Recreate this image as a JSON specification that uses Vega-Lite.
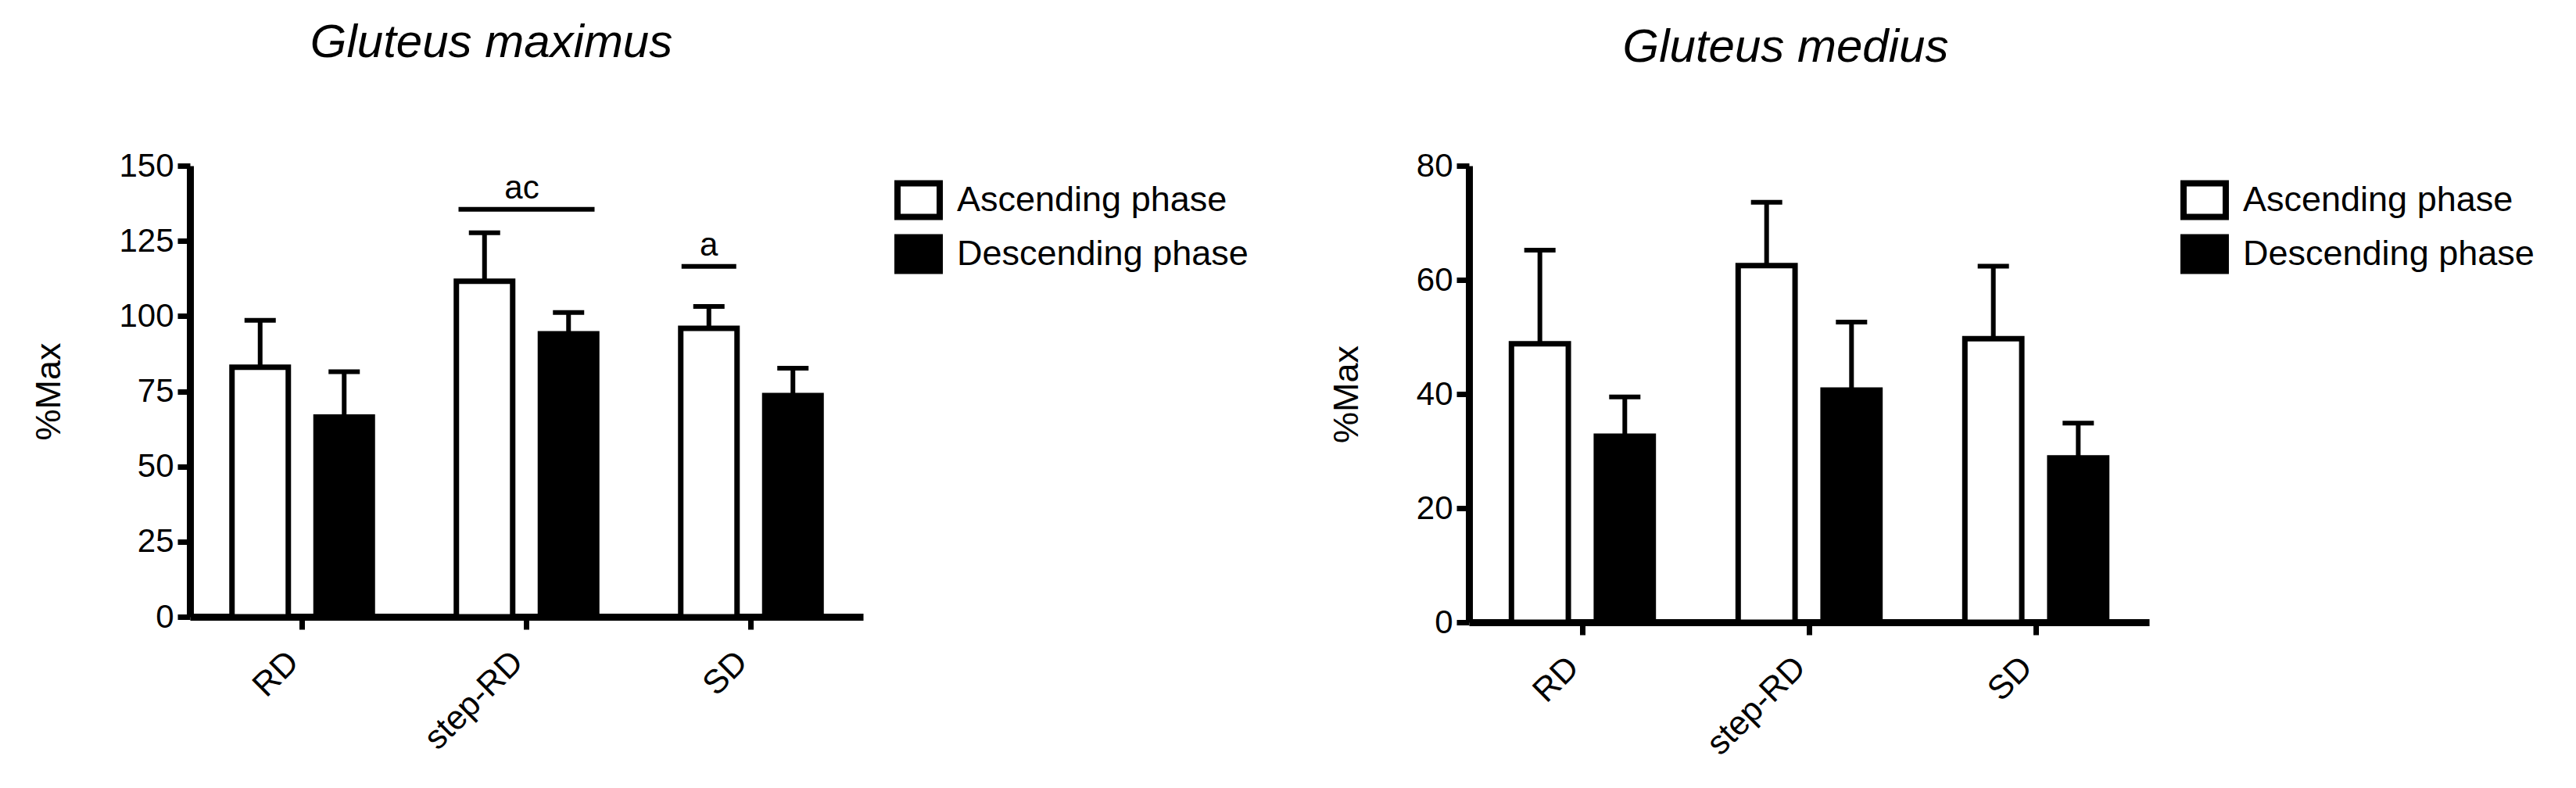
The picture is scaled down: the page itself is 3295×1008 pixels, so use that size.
{
  "$schema": "https://vega.github.io/schema/vega-lite/v6.json",
  "background": "white",
  "padding": {"left": 40, "top": 25, "right": 10, "bottom": 10},
  "spacing": 90,
  "datasets": {
    "maximus": [
      {"task": "RD", "phase": "Ascending phase", "mean": 83.0, "upper": 98.6},
      {"task": "RD", "phase": "Descending phase", "mean": 66.4, "upper": 81.5},
      {"task": "step-RD", "phase": "Ascending phase", "mean": 111.6, "upper": 127.7},
      {"task": "step-RD", "phase": "Descending phase", "mean": 94.1, "upper": 101.2},
      {"task": "SD", "phase": "Ascending phase", "mean": 95.9, "upper": 103.2},
      {"task": "SD", "phase": "Descending phase", "mean": 73.6, "upper": 82.7}
    ],
    "medius": [
      {"task": "RD", "phase": "Ascending phase", "mean": 48.8, "upper": 65.2},
      {"task": "RD", "phase": "Descending phase", "mean": 32.6, "upper": 39.5},
      {"task": "step-RD", "phase": "Ascending phase", "mean": 62.5, "upper": 73.6},
      {"task": "step-RD", "phase": "Descending phase", "mean": 40.7, "upper": 52.6},
      {"task": "SD", "phase": "Ascending phase", "mean": 49.7, "upper": 62.4},
      {"task": "SD", "phase": "Descending phase", "mean": 28.8, "upper": 34.9}
    ],
    "signif": [
      {"task": "step-RD", "phase": "Ascending phase", "y": 135.5, "label": "ac", "span": "group"},
      {"task": "SD", "phase": "Ascending phase", "y": 116.5, "label": "a", "span": "bar"}
    ]
  },
  "hconcat": [
    {
      "title": {"text": "Gluteus maximus", "dx": -45, "offset": 105},
      "width": 861,
      "height": 577,
      "layer": [
        {
          "data": {"name": "maximus"},
          "mark": {"type": "bar", "stroke": "black", "strokeWidth": 7},
          "encoding": {
            "x": {"field": "task", "type": "nominal", "sort": ["RD", "step-RD", "SD"],
                  "scale": {"paddingInner": 0, "paddingOuter": 0},
                  "axis": {"title": null, "labelAngle": -45, "labelPadding": 20, "labelOffset": -26, "labelFontSize": 43}},
            "xOffset": {"field": "phase", "type": "nominal",
                        "scale": {"domain": ["Ascending phase", "Descending phase"], "paddingInner": 0.33, "paddingOuter": 0.5}},
            "y": {"field": "mean", "type": "quantitative",
                  "scale": {"domain": [0, 150], "nice": false},
                  "axis": {"title": "%Max", "values": [0, 25, 50, 75, 100, 125, 150]}},
            "fill": {"field": "phase", "type": "nominal",
                     "scale": {"domain": ["Ascending phase", "Descending phase"], "range": ["white", "black"]},
                     "legend": {"title": null}}
          }
        },
        {
          "data": {"name": "maximus"},
          "mark": {"type": "rule", "color": "black", "strokeWidth": 6},
          "encoding": {
            "x": {"field": "task", "type": "nominal", "sort": ["RD", "step-RD", "SD"]},
            "xOffset": {"field": "phase", "type": "nominal"},
            "y": {"field": "mean", "type": "quantitative", "scale": {"domain": [0, 150], "nice": false}},
            "y2": {"field": "upper"}
          }
        },
        {
          "data": {"name": "maximus"},
          "mark": {"type": "tick", "color": "black", "size": 40, "thickness": 6, "opacity": 1},
          "encoding": {
            "x": {"field": "task", "type": "nominal", "sort": ["RD", "step-RD", "SD"]},
            "xOffset": {"field": "phase", "type": "nominal"},
            "y": {"field": "upper", "type": "quantitative", "scale": {"domain": [0, 150], "nice": false}}
          }
        },
        {
          "data": {"name": "signif"},
          "transform": [{"filter": "datum.span === 'group'"}],
          "layer": [
            {"mark": {"type": "tick", "color": "black", "size": 174, "thickness": 6, "opacity": 1}},
            {"mark": {"type": "text", "font": "Liberation Sans", "fontSize": 42, "baseline": "alphabetic", "dy": -14, "dx": -6, "color": "black"},
             "encoding": {"text": {"field": "label"}}}
          ],
          "encoding": {
            "x": {"field": "task", "type": "nominal", "sort": ["RD", "step-RD", "SD"]},
            "y": {"field": "y", "type": "quantitative", "scale": {"domain": [0, 150], "nice": false}}
          }
        },
        {
          "data": {"name": "signif"},
          "transform": [{"filter": "datum.span === 'bar'"}],
          "layer": [
            {"mark": {"type": "tick", "color": "black", "size": 70, "thickness": 6, "opacity": 1}},
            {"mark": {"type": "text", "font": "Liberation Sans", "fontSize": 42, "baseline": "alphabetic", "dy": -14, "color": "black"},
             "encoding": {"text": {"field": "label"}}}
          ],
          "encoding": {
            "x": {"field": "task", "type": "nominal", "sort": ["RD", "step-RD", "SD"]},
            "xOffset": {"field": "phase", "type": "nominal"},
            "y": {"field": "y", "type": "quantitative", "scale": {"domain": [0, 150], "nice": false}}
          }
        }
      ]
    },
    {
      "title": {"text": "Gluteus medius", "dx": -30, "offset": 99},
      "width": 870,
      "height": 584,
      "layer": [
        {
          "data": {"name": "medius"},
          "mark": {"type": "bar", "stroke": "black", "strokeWidth": 7},
          "encoding": {
            "x": {"field": "task", "type": "nominal", "sort": ["RD", "step-RD", "SD"],
                  "scale": {"paddingInner": 0, "paddingOuter": 0},
                  "axis": {"title": null, "labelAngle": -45, "labelPadding": 20, "labelOffset": -26, "labelFontSize": 43}},
            "xOffset": {"field": "phase", "type": "nominal",
                        "scale": {"domain": ["Ascending phase", "Descending phase"], "paddingInner": 0.33, "paddingOuter": 0.5}},
            "y": {"field": "mean", "type": "quantitative",
                  "scale": {"domain": [0, 80], "nice": false},
                  "axis": {"title": "%Max", "values": [0, 20, 40, 60, 80]}},
            "fill": {"field": "phase", "type": "nominal",
                     "scale": {"domain": ["Ascending phase", "Descending phase"], "range": ["white", "black"]},
                     "legend": {"title": null}}
          }
        },
        {
          "data": {"name": "medius"},
          "mark": {"type": "rule", "color": "black", "strokeWidth": 6},
          "encoding": {
            "x": {"field": "task", "type": "nominal", "sort": ["RD", "step-RD", "SD"]},
            "xOffset": {"field": "phase", "type": "nominal"},
            "y": {"field": "mean", "type": "quantitative", "scale": {"domain": [0, 80], "nice": false}},
            "y2": {"field": "upper"}
          }
        },
        {
          "data": {"name": "medius"},
          "mark": {"type": "tick", "color": "black", "size": 40, "thickness": 6, "opacity": 1},
          "encoding": {
            "x": {"field": "task", "type": "nominal", "sort": ["RD", "step-RD", "SD"]},
            "xOffset": {"field": "phase", "type": "nominal"},
            "y": {"field": "upper", "type": "quantitative", "scale": {"domain": [0, 80], "nice": false}}
          }
        }
      ]
    }
  ],
  "resolve": {
    "scale": {"y": "independent", "x": "independent", "xOffset": "independent", "fill": "independent"},
    "legend": {"fill": "independent"}
  },
  "config": {
    "view": {"stroke": null},
    "font": "Liberation Sans",
    "title": {"font": "Liberation Sans", "fontSize": 60, "fontStyle": "italic", "fontWeight": "normal", "color": "black", "anchor": "middle"},
    "axis": {
      "grid": false,
      "domainColor": "black", "domainWidth": 9,
      "tickColor": "black", "tickWidth": 7, "tickSize": 16,
      "labelFont": "Liberation Sans", "labelFontSize": 42, "labelColor": "black", "labelPadding": 5,
      "titleFont": "Liberation Sans", "titleFontSize": 45, "titleFontWeight": "normal", "titleColor": "black", "titlePadding": 66
    },
    "legend": {
      "orient": "right",
      "offset": 27,
      "padding": 13,
      "symbolType": "M-1,-0.8H1V0.8H-1Z",
      "symbolSize": 2916,
      "symbolStrokeColor": "black",
      "symbolStrokeWidth": 8,
      "symbolOpacity": 1,
      "labelFont": "Liberation Sans",
      "labelFontSize": 45,
      "labelColor": "black",
      "labelOffset": 18,
      "rowPadding": -9,
      "labelLimit": 600
    }
  }
}
